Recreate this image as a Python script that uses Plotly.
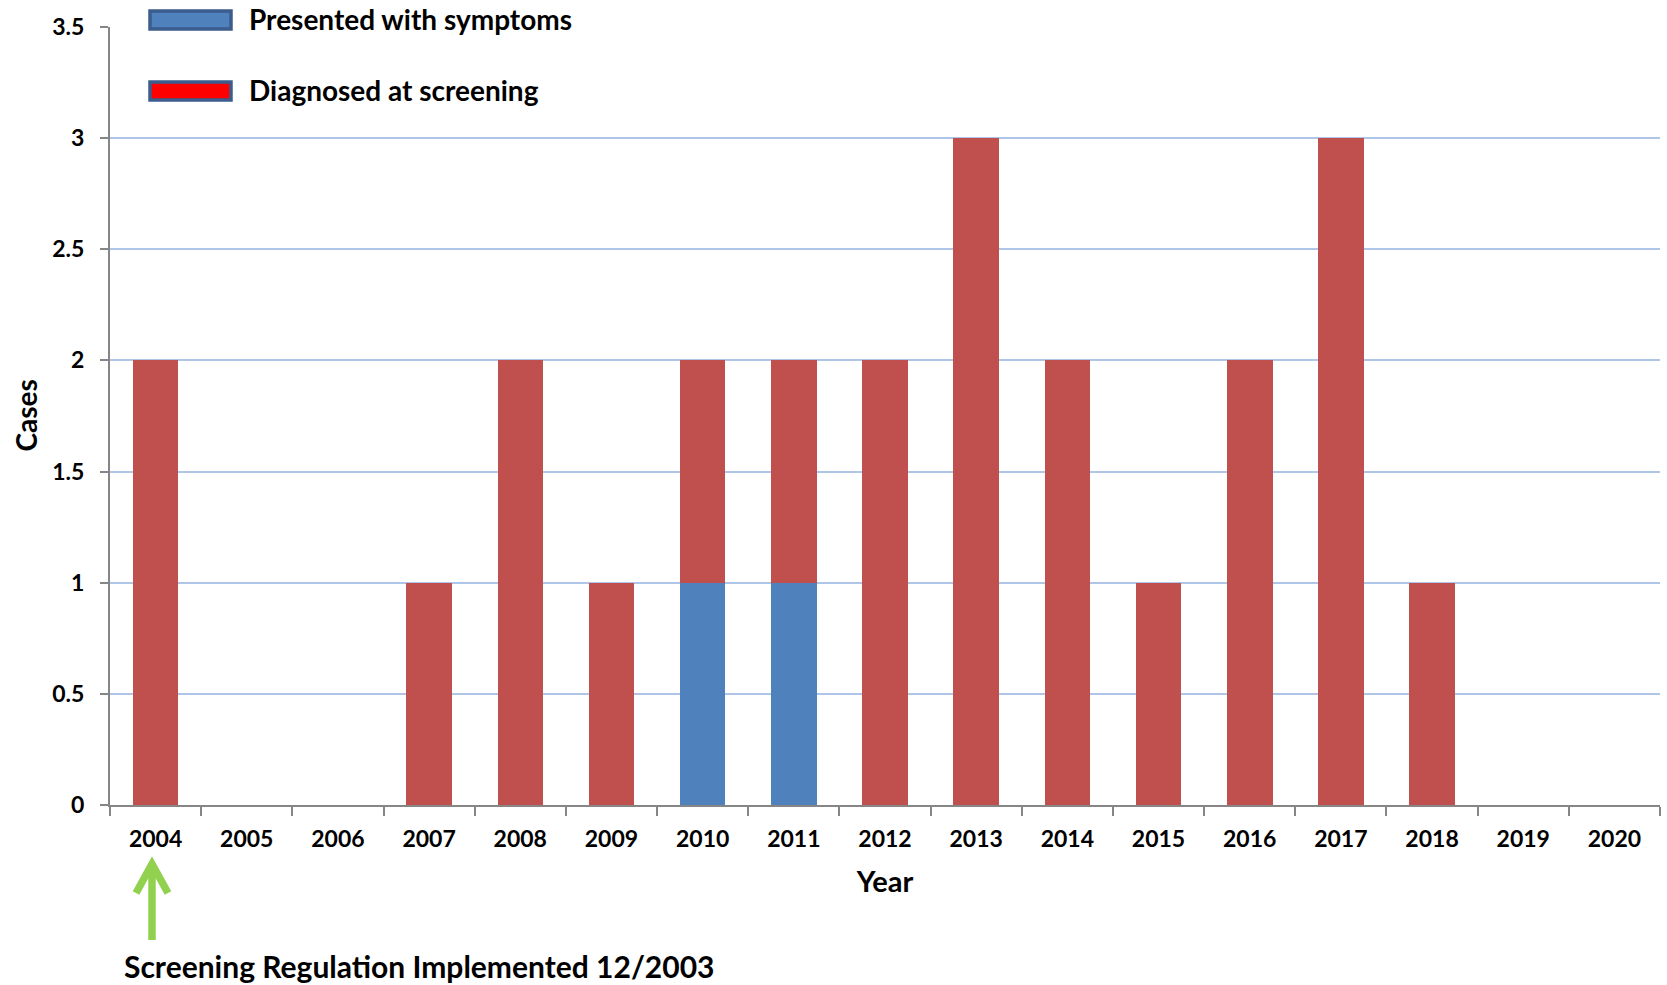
import plotly.graph_objects as go

years = ["2004", "2005", "2006", "2007", "2008", "2009", "2010", "2011", "2012",
         "2013", "2014", "2015", "2016", "2017", "2018", "2019", "2020"]
presented_with_symptoms = [0, 0, 0, 0, 0, 0, 1, 1, 0, 0, 0, 0, 0, 0, 0, 0, 0]
diagnosed_at_screening = [2, 0, 0, 1, 2, 1, 1, 1, 2, 3, 2, 1, 2, 3, 1, 0, 0]
y_ticks = [0, 0.5, 1, 1.5, 2, 2.5, 3, 3.5]
y_tick_labels = ["0", "0.5", "1", "1.5", "2", "2.5", "3", "3.5"]

W, H = 1667, 985
L, R, T, B = 110, 7, 27, 180
PW, PH = W - L - R, H - T - B
FONT = "Lato"


def px(x):
    return (x - L) / PW


def py(y):
    return (H - B - y) / PH


fig = go.Figure()
fig.add_trace(go.Bar(x=years, y=presented_with_symptoms, name="Presented with symptoms",
                     marker=dict(color="#4F81BD", line=dict(width=0))))
fig.add_trace(go.Bar(x=years, y=diagnosed_at_screening, name="Diagnosed at screening",
                     marker=dict(color="#C0504D", line=dict(width=0))))

shapes = []
annotations = []
# custom legend
legend_items = [("#4F81BD", "Presented with symptoms", 20),
                ("#FF0000", "Diagnosed at screening", 91)]
for fill, label, cy in legend_items:
    shapes.append(dict(type="rect", xref="paper", yref="paper",
                       x0=px(150), x1=px(231), y0=py(cy - 9), y1=py(cy + 9),
                       fillcolor=fill, line=dict(color="#3B5C8C", width=3.5), layer="above"))
    annotations.append(dict(xref="paper", yref="paper", x=px(247), y=py(cy - 0.5),
                            xanchor="left", yanchor="middle", showarrow=False,
                            text="<b>" + label + "</b>",
                            font=dict(family=FONT, size=28, color="#000000")))

# y-axis title
annotations.append(dict(xref="paper", yref="paper", x=px(25.5), y=py(416),
                        xanchor="center", yanchor="middle", showarrow=False, textangle=-90,
                        text="<b>Cases</b>",
                        font=dict(family=FONT, size=28, color="#000000")))

# green arrow
green = "#92D050"
shapes.append(dict(type="line", xref="paper", yref="paper",
                   x0=px(152), x1=px(152), y0=py(866), y1=py(940),
                   line=dict(color=green, width=7.5)))
shapes.append(dict(type="path", xref="paper", yref="paper",
                   path=f"M {px(136)},{py(893)} L {px(152)},{py(864)} L {px(168)},{py(893)}",
                   line=dict(color=green, width=7.5)))
annotations.append(dict(xref="paper", yref="paper", x=px(122), y=py(986),
                        xanchor="left", yanchor="bottom", showarrow=False,
                        text="<b>Screening Regulation Implemented 12/2003</b>",
                        font=dict(family=FONT, size=30, color="#000000")))

fig.update_layout(
    width=W, height=H,
    margin=dict(l=L, r=R, t=T, b=B, pad=0),
    barmode="stack", bargap=0.5,
    showlegend=False,
    plot_bgcolor="#FFFFFF", paper_bgcolor="#FFFFFF",
    font=dict(family=FONT, color="#000000"),
    shapes=shapes, annotations=annotations,
    xaxis=dict(
        type="category", categoryorder="array", categoryarray=years,
        automargin=False,
        tickson="boundaries", ticks="outside", ticklen=9, tickwidth=2, tickcolor="#868686",
        showline=True, linecolor="#868686", linewidth=2, showgrid=False,
        tickfont=dict(family=FONT, size=23, color="#000000", weight="bold"),
        ticklabelstandoff=12,
        title=dict(text="<b>Year</b>", font=dict(family=FONT, size=29, color="#000000"), standoff=21),
    ),
    yaxis=dict(
        range=[0, 3.5], tickvals=y_ticks, ticktext=y_tick_labels,
        automargin=False,
        ticks="outside", ticklen=8, tickwidth=2, tickcolor="#868686",
        showline=True, linecolor="#868686", linewidth=2,
        showgrid=True, gridcolor="#B0C6E8", gridwidth=1.5, zeroline=False,
        tickfont=dict(family=FONT, size=23, color="#000000", weight="bold"),
        ticklabelstandoff=11,
    ),
)

fig.write_html("out.html", config={"displayModeBar": False},
               post_script="document.body.style.margin='0';document.body.style.overflow='hidden';")
